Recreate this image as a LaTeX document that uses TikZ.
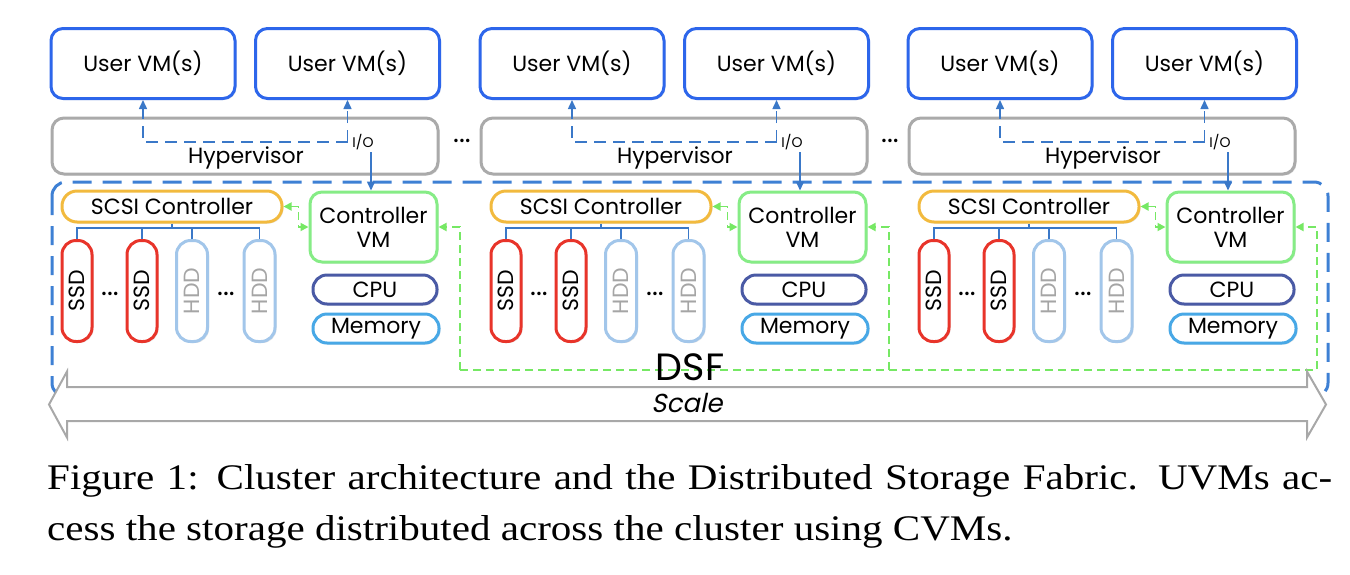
\documentclass[tikz,border=0pt]{standalone}
\usepackage{fontspec}
\usepackage{graphicx}
\setmainfont{Liberation Serif}
\newfontfamily\capfont{Liberation Serif}[FakeStretch=1.14]
\newfontfamily\dfont{Poppins}
\newfontfamily\dslfont{Poppins}[FakeSlant=0.2]
\usetikzlibrary{shadows,arrows.meta,calc}
\definecolor{uvmblue}{RGB}{45,102,235}
\definecolor{hypgrey}{RGB}{170,170,170}
\definecolor{dsfblue}{RGB}{62,128,212}
\definecolor{scsiorange}{RGB}{242,186,62}
\definecolor{cvmgreen}{RGB}{134,236,134}
\definecolor{cpublue}{RGB}{74,90,165}
\definecolor{memblue}{RGB}{72,168,230}
\definecolor{ssdred}{RGB}{232,52,42}
\definecolor{hddblue}{RGB}{162,198,234}
\definecolor{hddtext}{RGB}{165,165,165}
\definecolor{linkgreen}{RGB}{118,232,100}
\definecolor{arrowblue}{RGB}{58,120,200}
\definecolor{scalegrey}{RGB}{168,168,168}
\tikzset{
  box/.style={draw, line width=3pt, fill=white, rounded corners=12pt, inner sep=0pt,
    align=center, font=\dfont\fontsize{22}{24}\selectfont,
    drop shadow={shadow xshift=1.5pt, shadow yshift=-1.5pt, fill=black, opacity=0.10}},
  uvm/.style={box, draw=uvmblue, minimum width=184pt, minimum height=70pt},
  hyp/.style={box, draw=hypgrey, minimum width=386pt, minimum height=56pt},
  scsi/.style={box, draw=scsiorange, minimum width=220pt, minimum height=31pt, rounded corners=15pt},
  cvm/.style={box, draw=cvmgreen, minimum width=127pt, minimum height=70pt},
  cpu/.style={box, draw=cpublue, minimum width=124pt, minimum height=29pt, rounded corners=14pt},
  mem/.style={box, draw=memblue, minimum width=126pt, minimum height=29pt, rounded corners=14pt},
  ssd/.style={box, draw=ssdred, minimum width=30pt, minimum height=101pt, rounded corners=14pt},
  hdd/.style={box, draw=hddblue, minimum width=31pt, minimum height=101pt, rounded corners=14pt, text=hddtext},
  lbl/.style={inner sep=0pt, font=\dfont\fontsize{22}{24}\selectfont},
  dots/.style={inner sep=0pt, font=\dfont\fontsize{28}{30}\selectfont},
  iolbl/.style={inner sep=0pt, font=\dfont\fontsize{14}{15}\selectfont},
  bus/.style={draw=arrowblue, line width=1.5pt},
  dblue/.style={draw=arrowblue, line width=1.5pt, dash pattern=on 12pt off 7pt, -{Triangle[length=9pt,width=8pt]}},
  sblue/.style={draw=arrowblue, line width=1.5pt, -{Triangle[length=9pt,width=8pt]}},
  gdash/.style={draw=linkgreen, line width=1.8pt, dash pattern=on 8pt off 5pt},
  gtip/.style={-{Triangle[length=8pt,width=8pt]}},
  gtips/.style={{Triangle[length=8pt,width=8pt]}-{Triangle[length=8pt,width=8pt]}},
  dsf/.style={draw=dsfblue, line width=3pt, dash pattern=on 19pt off 11pt, rounded corners=14pt},
  scalearrow/.style={draw=scalegrey, line width=2pt, fill=white},
  captxt/.style={inner sep=0pt, font=\capfont\fontsize{36}{44}\selectfont}
}
\begin{document}
\begin{tikzpicture}[x=1pt,y=-1pt]
\useasboundingbox (0,0) rectangle (1350,574);
% DSF region
\draw[dsf] (52,182) rectangle (1328,397);
\foreach \g/\dx in {1/0,2/429,3/857}{
  \node[uvm] (uvmA\g) at (143+\dx,63.5) {User VM(s)};
  \node[uvm] (uvmB\g) at (347.5+\dx,63.5) {User VM(s)};
  \node[hyp] (hyp\g) at (245+\dx,146) {};
  \node[lbl, anchor=base] (hyplbl\g) at (246+\dx,163) {Hypervisor};
  \node[scsi] (scsi\g) at (172+\dx,206.5) {SCSI Controller};
  \node[cvm] (cvm\g) at (373.5+\dx,227) {Controller\\VM};
  \node[cpu] (cpu\g) at (375+\dx,289.5) {CPU};
  \node[mem] (mem\g) at (376+\dx,328.5) {Memory};
  \node[ssd] (ssdA\g) at (77+\dx,291) {\rotatebox{90}{SSD}};
  \node[ssd] (ssdB\g) at (142+\dx,291) {\rotatebox{90}{SSD}};
  \node[hdd] (hddA\g) at (192+\dx,291) {\rotatebox{90}{HDD}};
  \node[hdd] (hddB\g) at (259.5+\dx,291) {\rotatebox{90}{HDD}};
  \node[dots] (sdots\g) at (110+\dx,294) {...};
  \node[dots] (hdots\g) at (226+\dx,294) {...};
  % disk bus
  \coordinate (bus\g) at (172+\dx,228);
  \draw[bus] (scsi\g.south) -- (bus\g);
  \draw[bus] (ssdA\g.north) -- (ssdA\g.north |- bus\g) -- (hddB\g.north |- bus\g) -- (hddB\g.north);
  \draw[bus] (ssdB\g.north) -- (ssdB\g.north |- bus\g);
  \draw[bus] (hddA\g.north) -- (hddA\g.north |- bus\g);
  % I/O paths
  \coordinate (io\g) at (347.5+\dx,142);
  \draw[dblue] (io\g) -- (uvmB\g.south);
  \draw[dblue] (io\g) -| (uvmA\g.south);
  \node[iolbl] (iolbl\g) at (363+\dx,142) {I/O};
  \coordinate (ios\g) at (371+\dx,152);
  \draw[sblue] (ios\g) -- (ios\g |- cvm\g.north);
  % SCSI <-> CVM
  \draw[gdash, gtips] (scsi\g.east) -- ++(15,0) |- (cvm\g.west);
}
\node[dots] (hypdots1) at (462,141) {...};
\node[dots] (hypdots2) at (890,141) {...};
% green fabric links between CVMs
\coordinate (gl1) at (460,227);
\coordinate (gl2) at (889,227);
\coordinate (gl3) at (1317,227);
\draw[gdash, gtip] (gl1 |- 0,370) -- (gl1) -- (cvm1.east);
\draw[gdash, gtip] (gl2 |- 0,370) -- (gl2) -- (cvm2.east);
\draw[gdash, gtip] (gl1 |- 0,370) -- (gl3 |- 0,370) -- (gl3) -- (cvm3.east);
% Scale arrow
\draw[scalearrow] (49,404.5) -- (67,371.5) -- (67,387) -- (1307,387) -- (1307,371.5)
  -- (1326,404.5) -- (1307,437.5) -- (1307,421) -- (67,421) -- (67,437.5) -- cycle;
\node[inner sep=0pt, anchor=base, font=\dfont\fontsize{38}{40}\selectfont] (dsflbl) at (690,380) {DSF};
\node[inner sep=0pt, anchor=base, font=\dslfont\fontsize{26}{30}\selectfont] (scalelbl) at (687,412) {Scale};
% caption
\node[captxt, anchor=base west] (cap1) at (47,489) {\makebox[1285pt][s]{Figure 1: Cluster architecture and the Distributed Storage Fabric. UVMs ac-}};
\node[captxt, anchor=base west] (cap2) at (47,540) {cess the storage distributed across the cluster using CVMs.};
\end{tikzpicture}
\end{document}
